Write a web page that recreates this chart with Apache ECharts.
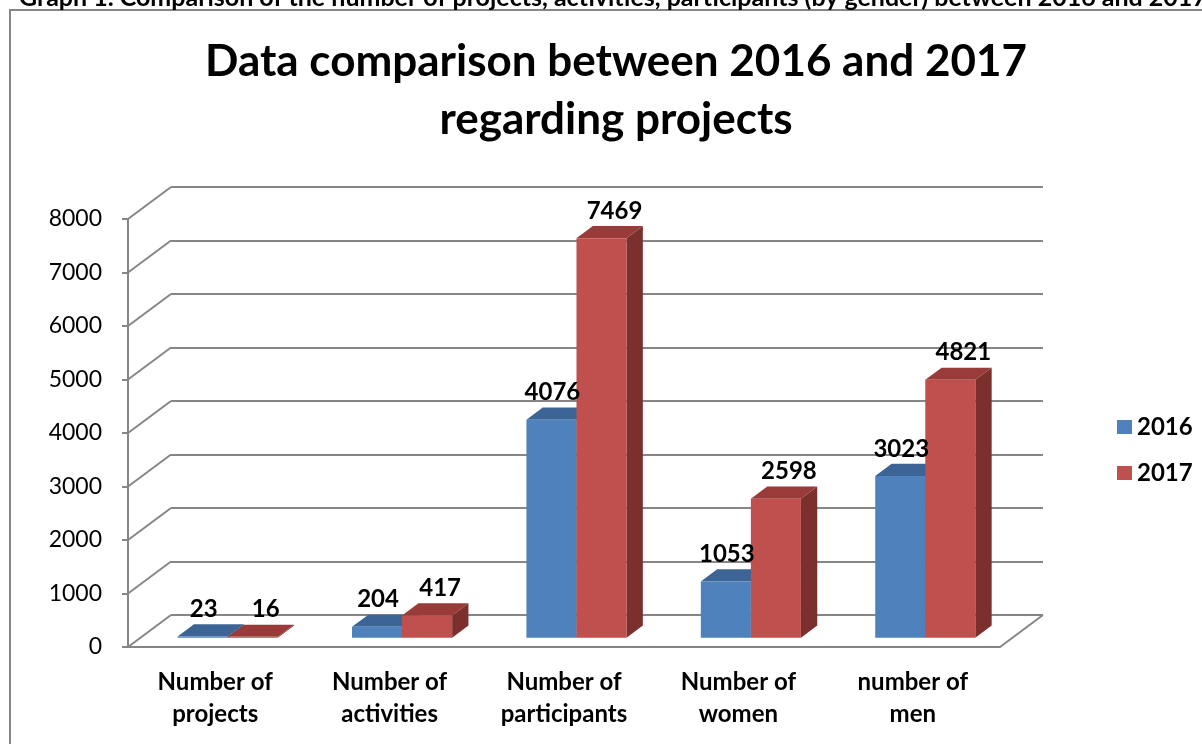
<!DOCTYPE html>
<html>
<head>
<meta charset="utf-8">
<script src="https://cdn.jsdelivr.net/npm/echarts@6/dist/echarts.min.js"></script>
<style>
  html, body { margin: 0; padding: 0; background: #fff; }
  #chart { width: 1202px; height: 744px; }
</style>
</head>
<body>
<div id="chart"></div>
<script>
const categories = ["Number of\nprojects", "Number of\nactivities", "Number of\nparticipants", "Number of\nwomen", "number of\nmen"];
const years = ["2016", "2017"];
const values2016 = [23, 204, 4076, 1053, 3023];
const values2017 = [16, 417, 7469, 2598, 4821];
const yTicks = [0, 1000, 2000, 3000, 4000, 5000, 6000, 7000, 8000];

// pseudo 3d look: back wall is shifted by this vector
const DX = 43, DY = -32;
const FRONT = 0.29;   // where the bars stand in the depth
const DEPTH = 0.38;   // bar depth as part of the whole depth
const BAR = 0.287;    // one bar width as part of a category band
const GRAY = "#868686";
const FONT = "Lato";

const faces = [
  { front: "#4F81BD", top: "#3C6595", side: "#2E5180", shift: 1 },
  { front: "#C0504D", top: "#983B39", side: "#7C302E", shift: 13 }
];

// front face box of bar k for one data item
function barBox(k, api) {
  const i = api.value(0), v = api.value(1);
  const w = api.size([1, 0])[0] * BAR;
  const base = api.coord([i, 0]);
  const top = api.coord([i, v]);
  return {
    v: v, w: w,
    x: base[0] - w + k * w + DX * FRONT,
    yb: base[1] + DY * FRONT,
    yt: top[1] + DY * FRONT
  };
}

function barRender(k) {
  return function (params, api) {
    const b = barBox(k, api);
    const x = b.x, w = b.w, yb = b.yb, yt = b.yt;
    const dx = DX * DEPTH, dy = DY * DEPTH;
    const f = faces[k];
    return {
      type: "group",
      children: [
        { type: "polygon", shape: { points: [[x + w, yb], [x + w + dx, yb + dy], [x + w + dx, yt + dy], [x + w, yt]] },
          style: { fill: f.side } },
        { type: "polygon", shape: { points: [[x, yt], [x + w, yt], [x + w + dx, yt + dy], [x + dx, yt + dy]] },
          style: { fill: f.top } },
        { type: "rect", shape: { x: x, y: yt, width: w, height: yb - yt }, style: { fill: f.front } }
      ]
    };
  };
}

function labelRender(k) {
  return function (params, api) {
    const b = barBox(k, api);
    return { type: "text", x: b.x + b.w / 2 + faces[k].shift, y: b.yt + DY * DEPTH - 15,
      style: { text: String(b.v), font: "bold 24px " + FONT, fill: "#000", align: "center", verticalAlign: "middle" } };
  };
}

function wallRender(params, api) {
  const v = api.value(1);
  const band = api.size([1, 0])[0];
  const p = api.coord([0, v]);
  const x0 = p[0] - band / 2;
  const lines = [{ type: "line", shape: { x1: x0, y1: p[1], x2: x0 + DX, y2: p[1] + DY },
    style: { stroke: GRAY, lineWidth: 2 } }];
  if (v === 0) {
    const x1 = api.coord([categories.length - 1, 0])[0] + band / 2;
    lines.push({ type: "line", shape: { x1: x1, y1: p[1], x2: x1 + DX, y2: p[1] + DY },
      style: { stroke: GRAY, lineWidth: 2 } });
  }
  return { type: "group", children: lines };
}

const chart = echarts.init(document.getElementById("chart"));
const option = {
  animation: false,
  title: {
    text: "Data comparison between 2016 and 2017\nregarding projects",
    left: 611, top: 28, textAlign: "center",
    textStyle: { fontFamily: FONT, fontWeight: "bold", fontSize: 44, lineHeight: 58, color: "#000" }
  },
  graphic: [
    { type: "rect", shape: { x: 10, y: 10, width: 1300, height: 900 },
      style: { fill: "none", stroke: GRAY, lineWidth: 2 } },
    { type: "text", x: 19, y: 10,
      style: { text: "Graph 1. Comparison of the number of projects, activities, participants (by gender) between 2016 and 2017",
        font: "bold 25px " + FONT, fill: "#000", verticalAlign: "bottom" } }
  ],
  legend: {
    data: years, orient: "vertical", left: 1112, top: 410, itemGap: 22,
    itemWidth: 15, itemHeight: 14, icon: "rect",
    textStyle: { fontFamily: FONT, fontWeight: "bold", fontSize: 24, color: "#000", padding: [0, 0, 0, 0] }
  },
  grid: [
    { left: 128, top: 219, width: 872, height: 428 },
    { left: 128 + DX, top: 219 + DY, width: 872, height: 428 }
  ],
  xAxis: [
    { type: "category", data: categories, gridIndex: 0,
      axisLine: { lineStyle: { color: GRAY, width: 2 } },
      axisTick: { length: 8, lineStyle: { color: GRAY, width: 2 } },
      axisLabel: { fontFamily: FONT, fontWeight: "bold", fontSize: 24, lineHeight: 32, color: "#000", margin: 19 } },
    { type: "category", data: categories, gridIndex: 1, show: false }
  ],
  yAxis: [
    { type: "value", min: 0, max: 8000, interval: 1000, gridIndex: 0,
      axisLine: { show: true, lineStyle: { color: GRAY, width: 2 } },
      axisTick: { show: true, length: 6, lineStyle: { color: GRAY, width: 2 } },
      splitLine: { show: false },
      axisLabel: { fontFamily: FONT, fontSize: 23, color: "#000", margin: 26, formatter: v => String(v) } },
    { type: "value", min: 0, max: 8000, interval: 1000, gridIndex: 1,
      axisLine: { show: false }, axisTick: { show: false }, axisLabel: { show: false },
      splitLine: { show: true, lineStyle: { color: GRAY, width: 2 } } }
  ],
  series: [
    { type: "custom", name: "walls", silent: true,
      data: yTicks.map(v => [0, v]), renderItem: wallRender, z: 1 },
    { type: "custom", name: years[0], color: faces[0].front,
      data: values2016.map((v, i) => [i, v]), renderItem: barRender(0), z: 2 },
    { type: "custom", name: years[1], color: faces[1].front,
      data: values2017.map((v, i) => [i, v]), renderItem: barRender(1), z: 3 },
    { type: "custom", name: "labels " + years[0], silent: true,
      data: values2016.map((v, i) => [i, v]), renderItem: labelRender(0), z: 5 },
    { type: "custom", name: "labels " + years[1], silent: true,
      data: values2017.map((v, i) => [i, v]), renderItem: labelRender(1), z: 5 }
  ]
};
chart.setOption(option);
</script>
</body>
</html>
